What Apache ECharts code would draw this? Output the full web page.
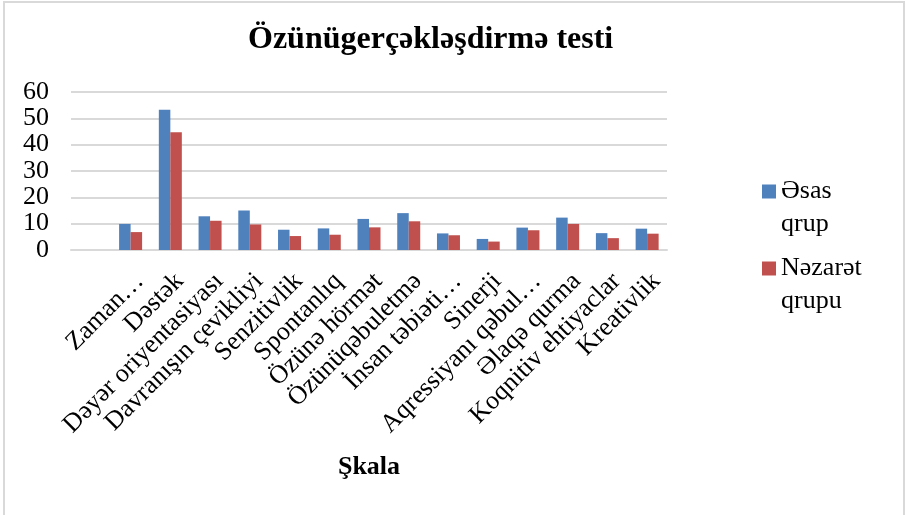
<!DOCTYPE html>
<html>
<head>
<meta charset="utf-8">
<script src="https://cdn.jsdelivr.net/npm/echarts@6/dist/echarts.min.js"></script>
<style>
  html, body { margin: 0; padding: 0; background: #fff; }
  #container { width: 906px; height: 515px; }
</style>
</head>
<body>
<div id="container"></div>
<script>
// 初始化echarts实例
var myChart = echarts.init(document.getElementById('container'));

// 分类（第一个为空）
var categories = ['', 'Zaman…', 'Dəstək', 'Dəyər oriyentasiyası', 'Davranışın çevikliyi',
    'Senzitivlik', 'Spontanlıq', 'Özünə hörmət', 'Özünüqəbuletmə', 'İnsan təbiəti…',
    'Sinerji', 'Aqressiyanı qəbul…', 'Əlaqə qurma', 'Koqnitiv ehtiyaclar', 'Kreativlik'];
// Əsas qrup
var esasQrup = [null, 9.9, 53.3, 12.8, 15.0, 7.7, 8.2, 11.8, 14.0, 6.3, 4.2, 8.5, 12.3, 6.4, 8.1];
// Nəzarət qrupu
var nezaretQrupu = [null, 6.8, 44.7, 11.1, 9.7, 5.3, 5.8, 8.6, 10.9, 5.6, 3.2, 7.5, 9.9, 4.5, 6.2];
var yTicks = [0, 10, 20, 30, 40, 50, 60];

var serif = '"Liberation Serif", "DejaVu Serif", serif';

var option = {
    animation: false,
    backgroundColor: '#fff',
    title: {
        text: 'Özünügerçəkləşdirmə testi',
        left: 243,
        top: 19,
        textStyle: {fontFamily: serif, fontSize: 32, fontWeight: 'bold', color: '#000'}
    },
    legend: {
        orient: 'vertical',
        left: 757,
        top: 137,
        itemWidth: 14,
        itemHeight: 14,
        itemGap: -22,
        icon: 'rect',
        data: ['Əsas\nqrup', 'Nəzarət\nqrupu'],
        // 首行与图标对齐
        formatter: function (name) {
            return '\n' + name;
        },
        textStyle: {fontFamily: serif, fontSize: 26, color: '#000', lineHeight: 33}
    },
    grid: {left: 71, right: 239, top: 92, bottom: 265},
    xAxis: {
        type: 'category',
        data: categories,
        name: 'Şkala',
        nameLocation: 'middle',
        nameGap: 204,
        nameTextStyle: {fontFamily: serif, fontSize: 26, fontWeight: 'bold', color: '#000'},
        axisLine: {lineStyle: {color: '#d9d9d9', width: 2}},
        axisTick: {show: false},
        axisLabel: {
            interval: 0,
            rotate: 45,
            margin: 18,
            verticalAlign: 'top',
            fontFamily: serif,
            fontSize: 26,
            color: '#000'
        }
    },
    yAxis: {
        type: 'value',
        min: yTicks[0],
        max: yTicks[yTicks.length - 1],
        interval: 10,
        axisLine: {show: false},
        axisTick: {show: false},
        axisLabel: {fontFamily: serif, fontSize: 26, color: '#000', margin: 22},
        splitLine: {lineStyle: {color: '#d9d9d9', width: 2}}
    },
    series: [
        {
            name: 'Əsas\nqrup',
            type: 'bar',
            data: esasQrup,
            barWidth: 11.5,
            barGap: '0%',
            itemStyle: {color: '#4f81bd'}
        },
        {
            name: 'Nəzarət\nqrupu',
            type: 'bar',
            data: nezaretQrupu,
            barWidth: 11.5,
            barGap: '0%',
            itemStyle: {color: '#c0504d'}
        }
    ],
    graphic: [{
        type: 'rect',
        silent: true,
        shape: {x: 4, y: 2, width: 900, height: 530},
        style: {fill: 'none', stroke: '#d9d9d9', lineWidth: 2}
    }]
};
myChart.setOption(option, true);

window.onresize = function () {
    myChart.resize();
};
</script>
</body>
</html>
